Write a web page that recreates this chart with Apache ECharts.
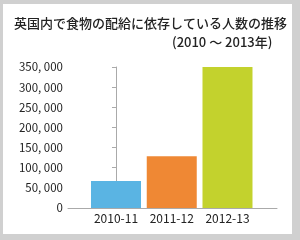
<!DOCTYPE html>
<html><head><meta charset="utf-8">
<script src="https://cdn.jsdelivr.net/npm/echarts@6/dist/echarts.min.js"></script>
<style>html,body{margin:0;padding:0;background:#d0d0d0}#c{width:300px;height:240px}</style>
</head><body><div id="c"></div>
<script>
const categories = ['2010-11', '2011-12', '2012-13'];
const values = [67000, 128700, 351000];
const barColors = ['#5ab4e3', '#ef8834', '#c3d22d'];
const yTicks = [0, 50000, 100000, 150000, 200000, 250000, 300000, 350000];
const titleLine1 = '英国内で食物の配給に依存している人数の推移';
const titleLine2 = '(2010 ～ 2013年)';

const chart = echarts.init(document.getElementById('c'), null, {renderer: 'canvas'});
const fmt = v => String(v).replace(/\B(?=(\d{3})+(?!\d))/g, ', ');
chart.setOption({
  backgroundColor: '#d0d0d0',
  animation: false,
  graphic: [{type: 'rect', z: -10, shape: {x: 3, y: 4, width: 289, height: 230}, style: {fill: '#ffffff'}}],
  title: [
    {text: titleLine1, left: 14, top: 17, padding: 0,
     textStyle: {fontFamily: 'Noto Sans CJK JP', fontSize: 13, fontWeight: 500, color: '#222'}},
    {text: titleLine2, left: 172, top: 36, padding: 0,
     textStyle: {fontFamily: 'Noto Sans CJK JP', fontSize: 13, fontWeight: 500, color: '#222'}}
  ],
  grid: {left: 68, top: 67, right: 23, bottom: 32},
  xAxis: {
    type: 'value', min: -0.861, max: 2.888,
    splitLine: {show: false},
    axisLine: {show: true, lineStyle: {color: '#aaa'}},
    axisTick: {show: false},
    axisLabel: {customValues: [0, 1, 2], formatter: v => categories[Math.round(v)] || '',
      fontFamily: 'Noto Sans CJK JP', fontSize: 12, color: '#222', margin: 4}
  },
  yAxis: {
    type: 'value', min: 0, max: 350000, interval: 50000,
    splitLine: {show: false},
    axisLine: {show: true, lineStyle: {color: '#aaa'}},
    axisTick: {show: true, length: 4, lineStyle: {color: '#aaa'}},
    axisLabel: {formatter: v => fmt(v), fontFamily: 'Noto Sans CJK JP', fontSize: 11.5, color: '#222', margin: 5}
  },
  series: [{
    type: 'bar', barWidth: 50,
    data: values.map((v, i) => ({value: [i, v], itemStyle: {color: barColors[i]}}))
  }]
});
</script></body></html>
